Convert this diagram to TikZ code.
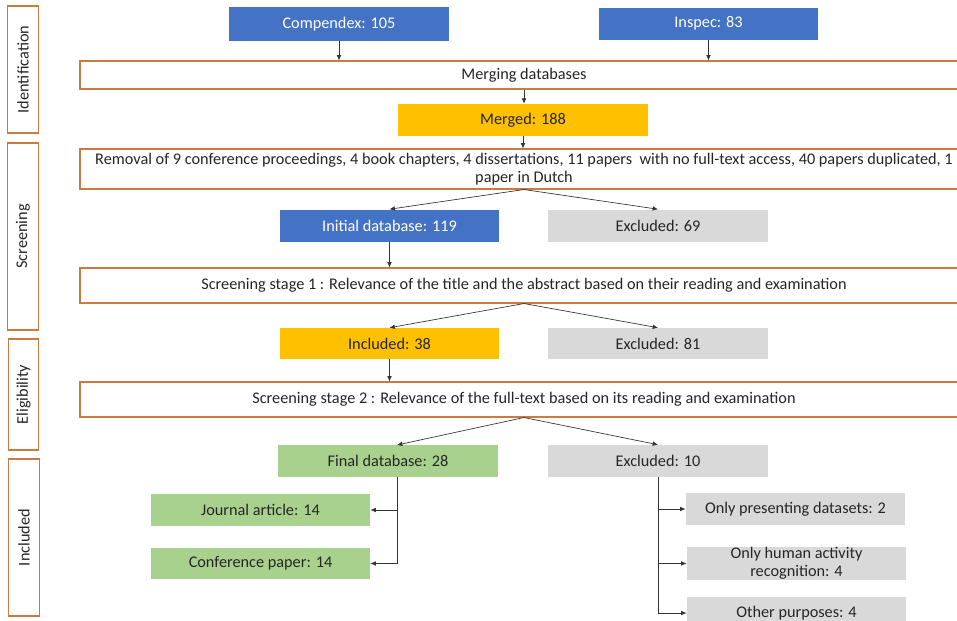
\documentclass[tikz,border=0pt]{standalone}
\usepackage{fontspec}
\setmainfont{Carlito}
\usetikzlibrary{arrows.meta}

\definecolor{boxblue}{RGB}{68,114,196}
\definecolor{boxyellow}{RGB}{255,192,0}
\definecolor{boxgreen}{RGB}{169,209,142}
\definecolor{boxgrey}{RGB}{217,217,217}
\definecolor{edgeorange}{RGB}{204,122,66}
\definecolor{txtgrey}{RGB}{38,38,38}

\begin{document}
\begin{tikzpicture}[x=0.75pt, y=-0.75pt,
    every node/.style={font=\fontsize{12.2}{13.5}\selectfont, text=txtgrey, inner sep=0pt},
    phase/.style={draw=edgeorange, line width=0.8pt, rotate=90, minimum height=23pt},
    stagebox/.style={draw=edgeorange, line width=0.8pt, fill=white, minimum width=666pt},
    box/.style={minimum width=164.5pt, minimum height=24pt},
    conn/.style={draw=black!80, line width=0.5pt, -{Latex[length=4pt,width=3.5pt]}}]

    % Fix the frame to the size of the page
    \useasboundingbox (0,0) rectangle (957,621);
    \clip (0,0) rectangle (957,621);

    % Phase labels on the left
    \node[phase, minimum width=95.25pt] (pIdent) at (23,69.5) {Identification};
    \node[phase, minimum width=140.25pt] (pScreen) at (23,236.5) {Screening};
    \node[phase, minimum width=83.25pt] (pElig) at (23.5,394.5) {Eligibility};
    \node[phase, minimum width=117.75pt] (pIncl) at (24,537.5) {Included};

    % Source databases
    \node[box, fill=boxblue, text=white, minimum height=25.5pt] (cmp) at (339,24) {Compendex: 105};
    \node[box, fill=boxblue, text=white] (insp) at (708.5,23.5) {Inspec: 83};

    % Wide step boxes
    \node[stagebox, minimum height=21pt] (merge) at (524,75) {Merging databases};
    \node[stagebox, minimum height=30pt, align=center] (removal) at (524,169)
        {Removal of 9 conference proceedings, 4 book chapters, 4 dissertations, 11 papers\ \ with no full-text access, 40 papers duplicated, 1\\paper in Dutch};
    \node[stagebox, minimum height=26.25pt] (stage1) at (524,285.5)
        {Screening stage 1 : Relevance of the title and the abstract based on their reading and examination};
    \node[stagebox, minimum height=26.25pt] (stage2) at (524,399.5)
        {Screening stage 2 : Relevance of the full-text based on its reading and examination};

    % Counts
    \node[box, fill=boxyellow, minimum width=187.5pt] (merged) at (523,120) {Merged: 188};
    \node[box, fill=boxblue, text=white] (initdb) at (389.5,225.5) {Initial database: 119};
    \node[box, fill=boxgrey] (exc69) at (658,225.5) {Excluded: 69};
    \node[box, fill=boxyellow, minimum height=23.25pt] (incl38) at (389.5,343.5) {Included: 38};
    \node[box, fill=boxgrey, minimum height=23.25pt] (exc81) at (658,343.5) {Excluded: 81};
    \node[box, fill=boxgreen] (final) at (388,461) {Final database: 28};
    \node[box, fill=boxgrey] (exc10) at (658,461) {Excluded: 10};

    % Final split
    \node[box, fill=boxgreen] (journal) at (260.5,510) {Journal article: 14};
    \node[box, fill=boxgreen, minimum height=23.25pt] (conf) at (260.5,563.5) {Conference paper: 14};

    % Excluded split
    \node[box, fill=boxgrey] (onlyds) at (795.5,509) {Only presenting datasets: 2};
    \node[box, fill=boxgrey, minimum height=23.25pt, align=center] (onlyhar) at (796.5,563.5)
        {Only human activity\\recognition: 4};
    \node[box, fill=boxgrey] (other) at (796.5,613) {Other purposes: 4};

    % Branch points under the final database
    \coordinate (fTop) at (397,445);
    \coordinate (fBot) at (397,477);

    % Connectors
    \draw[conn] (cmp.south) -- (cmp.south |- merge.north);
    \draw[conn] (insp.south) -- (insp.south |- merge.north);
    \draw[conn] (merge.south) -- (merge.south |- merged.north);
    \draw[conn] (merged.south) -- (merged.south |- removal.north);

    \draw[conn] (removal.south) -- (initdb.north);
    \draw[conn] (removal.south) -- (exc69.north);
    \draw[conn] (initdb.south) -- (initdb.south |- stage1.north);

    \draw[conn] (stage1.south) -- (incl38.north);
    \draw[conn] (stage1.south) -- (exc81.north);
    \draw[conn] (incl38.south) -- (incl38.south |- stage2.north);

    \draw[conn] (stage2.south) -- (fTop);
    \draw[conn] (stage2.south) -- (exc10.north);

    \draw[conn] (fBot) |- (conf.east);
    \draw[conn] (fBot |- journal.east) -- (journal.east);

    \draw[conn] (exc10.south) |- (other.west);
    \draw[conn] (exc10.south |- onlyds.west) -- (onlyds.west);
    \draw[conn] (exc10.south |- onlyhar.west) -- (onlyhar.west);

\end{tikzpicture}
\end{document}
